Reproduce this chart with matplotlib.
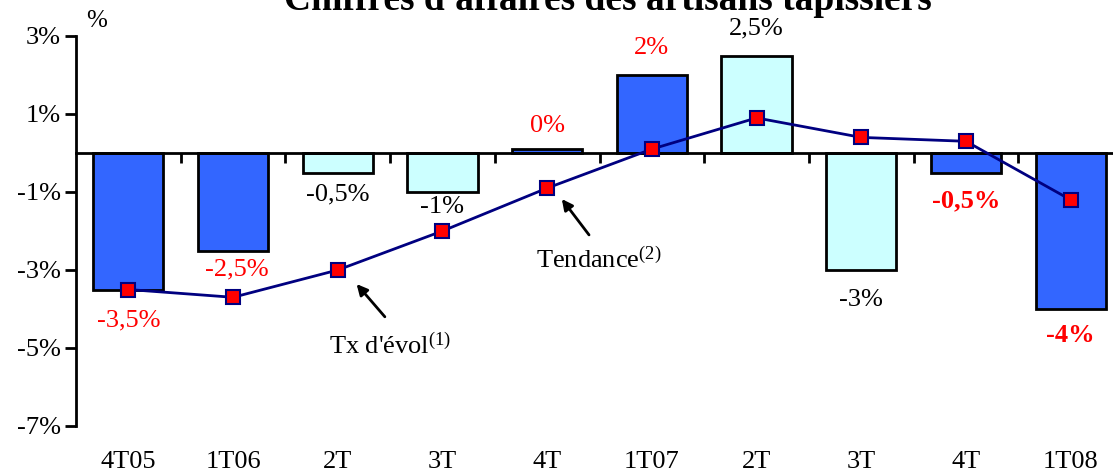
import matplotlib.pyplot as plt

plt.rcParams['font.family'] = ['Liberation Serif', 'DejaVu Serif']

# Data
categories = ['4T05', '1T06', '2T', '3T', '4T', '1T07', '2T', '3T', '4T', '1T08']
evolution = [-3.5, -2.5, -0.5, -1.0, 0.1, 2.0, 2.5, -3.0, -0.5, -4.0]
tendance = [-3.5, -3.7, -3.0, -2.0, -0.9, 0.1, 0.9, 0.4, 0.3, -1.2]
bar_labels = ['-3,5%', '-2,5%', '-0,5%', '-1%', '0%', '2%', '2,5%', '-3%', '-0,5%', '-4%']
label_colors = ['red', 'red', 'black', 'black', 'red', 'red', 'black', 'black', 'red', 'red']
label_bold = [False, False, False, False, False, False, False, False, True, True]
bar_colors = ['#3366FF', '#3366FF', '#CCFFFF', '#CCFFFF', '#3366FF',
              '#3366FF', '#CCFFFF', '#CCFFFF', '#3366FF', '#3366FF']
yticks = [3, 1, -1, -3, -5, -7]

# label offsets in pixels (dx, dy) from bar end
label_offsets = [(0, -31), (4, -19), (0, -22), (0, -15), (0, 23),
                 (0, 27), (0, 27), (0, -30), (0, -28), (0, -27)]

fig = plt.figure(figsize=(11.13, 4.75), dpi=100)
ax = fig.add_axes([76 / 1113, 49 / 475, 1047 / 1113, 390 / 475])

x = list(range(len(categories)))
ax.bar(x, evolution, width=0.67, color=bar_colors, edgecolor='black', linewidth=2, zorder=2)
ax.plot(x, tendance, color='#000080', linewidth=2, marker='s', markersize=10,
        markerfacecolor='red', markeredgecolor='#000080', markeredgewidth=1.5, zorder=3)

for i, (v, t) in enumerate(zip(evolution, bar_labels)):
    ax.annotate(t, (i, v), xytext=label_offsets[i], textcoords='offset pixels',
                ha='center', va='center', fontsize=19, color=label_colors[i],
                fontweight='bold' if label_bold[i] else 'normal')

# Axes styling
ax.set_xlim(-0.5, len(categories) - 0.5)
ax.set_ylim(-7, 3)
ax.set_yticks(yticks)
ax.set_yticklabels([f'{t}%' for t in yticks], fontsize=19)
ax.spines['top'].set_visible(False)
ax.spines['right'].set_visible(False)
ax.spines['left'].set_linewidth(2)
ax.spines['bottom'].set_linewidth(2)
ax.spines['bottom'].set_position(('data', 0))
ax.tick_params(axis='y', length=8, width=2, direction='out', pad=3)
ax.set_xticks([i + 0.5 for i in x[:-1]])
ax.set_xticklabels([])
ax.tick_params(axis='x', length=7, width=2, direction='out')

for i, c in enumerate(categories):
    ax.text(i, -7.93, c, ha='center', va='center', fontsize=19, clip_on=False)

ax.text(-0.4, 3.38, '%', fontsize=18, ha='left', va='center')

# Annotations
arrow = dict(arrowstyle='-|>', color='black', lw=2, mutation_scale=16, shrinkA=0, shrinkB=0)
ax.annotate('', xy=(2.18, -3.36), xytext=(2.45, -4.2), arrowprops=arrow)
ax.text(2.5, -4.95, "Tx d'évol$\\mathregular{^{(1)}}$", ha='center', va='center', fontsize=19)
ax.annotate('', xy=(4.14, -1.18), xytext=(4.4, -2.1), arrowprops=arrow)
ax.text(4.49, -2.74, 'Tendance$\\mathregular{^{(2)}}$', ha='center', va='center', fontsize=19)

fig.text(608 / 1113, 0.999, "Chiffres d'affaires des artisans tapissiers",
         ha='center', va='center', fontsize=27, fontweight='bold')

fig.savefig('out.png', dpi=100)
